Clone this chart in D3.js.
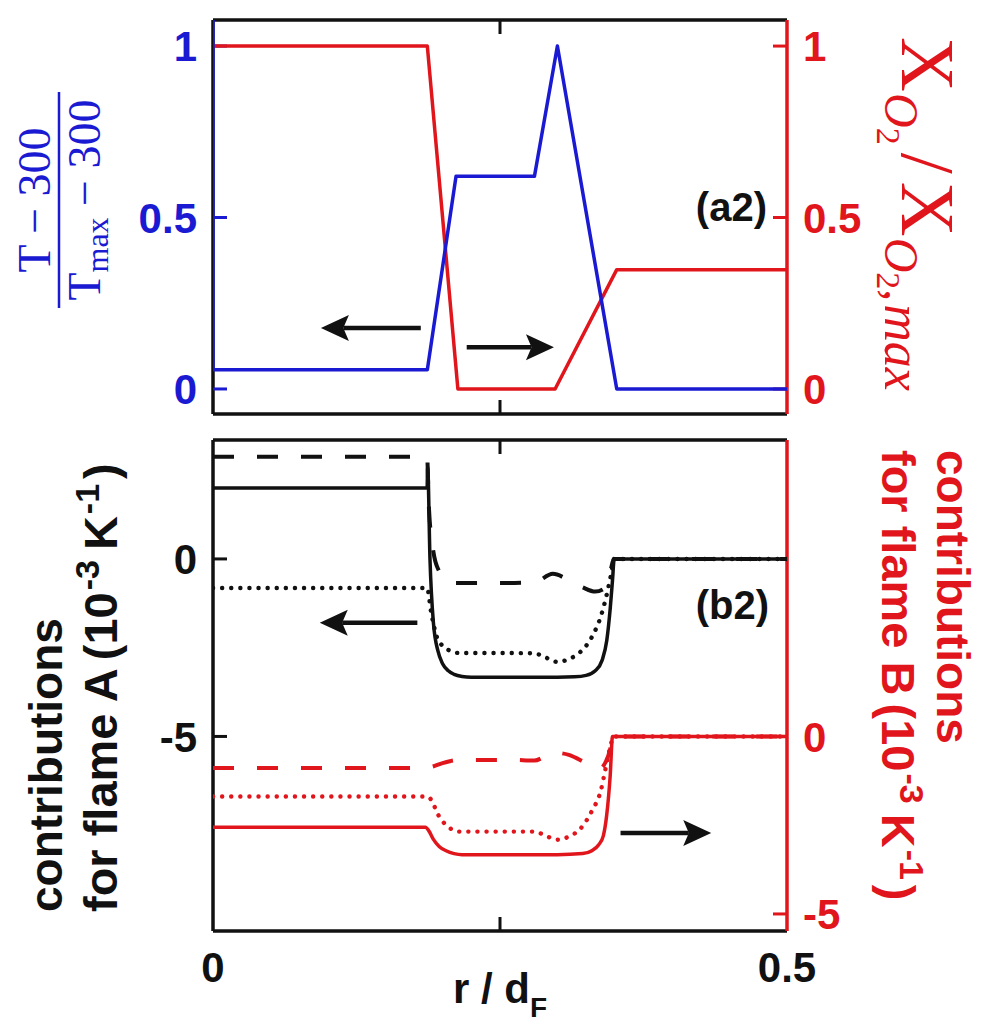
<!DOCTYPE html>
<html><head><meta charset="utf-8">
<script src="https://cdn.jsdelivr.net/npm/d3@7"></script>
<style>html,body{margin:0;padding:0;background:#fff;} svg{display:block;}</style>
</head><body>
<script>
// ---------- DATA ----------
// top panel (a2)
const rT   = [0, 0, 0.1867, 0.2117, 0.28, 0.30, 0.3517, 0.5];
const vT   = [1.08, 0.056, 0.056, 0.62, 0.62, 1.0, 0, 0];
const rO2  = [0, 0.1867, 0.2133, 0.298, 0.3517, 0.5];
const vO2  = [1, 1, 0, 0, 0.348, 0.348];
const topTicks = [0, 0.5, 1];
const topTickLabels = ["0", "0.5", "1"];

// bottom panel (b2) flame A (black, left axis)
const rAsolid = [0, 0.1865, 0.187, 0.189, 0.192, 0.196, 0.2, 0.205, 0.21, 0.217, 0.225, 0.26, 0.30, 0.315, 0.325, 0.333, 0.339, 0.343, 0.346, 0.348, 0.3495, 0.5];
const vAsolid = [2.0, 2.0, 2.6, 0.0, -1.8, -2.6, -2.95, -3.15, -3.25, -3.31, -3.33, -3.33, -3.33, -3.32, -3.28, -3.15, -2.85, -2.3, -1.4, -0.6, 0, 0];
const rAdash  = [0, 0.1865, 0.188, 0.192, 0.197, 0.203, 0.21, 0.25, 0.28, 0.296, 0.31, 0.322, 0.333, 0.34, 0.345, 0.3495, 0.5];
const vAdash  = [2.88, 2.88, 1.5, 0.2, -0.35, -0.6, -0.68, -0.68, -0.66, -0.42, -0.6, -0.8, -0.92, -0.85, -0.5, 0, 0];
const rAdot   = [0, 0.1865, 0.19, 0.195, 0.2, 0.206, 0.215, 0.25, 0.28, 0.29, 0.30, 0.31, 0.32, 0.33, 0.338, 0.343, 0.347, 0.3495, 0.5];
const vAdot   = [-0.82, -0.82, -1.5, -2.2, -2.45, -2.58, -2.65, -2.65, -2.66, -2.78, -2.9, -2.82, -2.62, -2.2, -1.6, -1.0, -0.4, 0, 0];
// flame B (red, right axis)
const rBsolid = [0, 0.185, 0.188, 0.192, 0.197, 0.203, 0.21, 0.217, 0.26, 0.30, 0.322, 0.33, 0.336, 0.34, 0.343, 0.346, 0.348, 0.5];
const vBsolid = [-2.56, -2.56, -2.66, -2.9, -3.1, -3.22, -3.3, -3.33, -3.33, -3.33, -3.3, -3.22, -3.05, -2.8, -2.2, -1.1, 0, 0];
const rBdash  = [0, 0.185, 0.19, 0.2, 0.215, 0.26, 0.28, 0.29, 0.298, 0.31, 0.322, 0.33, 0.337, 0.342, 0.346, 0.348, 0.5];
const vBdash  = [-0.89, -0.89, -0.86, -0.75, -0.66, -0.66, -0.68, -0.55, -0.46, -0.52, -0.7, -0.84, -0.9, -0.72, -0.35, 0, 0];
const rBdot   = [0, 0.186, 0.19, 0.196, 0.205, 0.215, 0.25, 0.28, 0.29, 0.30, 0.31, 0.32, 0.33, 0.338, 0.342, 0.346, 0.349, 0.5];
const vBdot   = [-1.69, -1.69, -1.78, -2.2, -2.55, -2.68, -2.68, -2.68, -2.8, -2.91, -2.82, -2.6, -2.1, -1.5, -0.9, -0.3, 0, 0];
const botTicksA = [-5, 0];
const botTicksB = [-5, 0];
const xTicks = [0, 0.25, 0.5];
const xTickLabels = ["0", "", "0.5"];

// arrows [r1, r2, value] (points from r1 to r2)
const arrowsTop = [[0.181, 0.094, 0.178], [0.221, 0.297, 0.122]];
const arrowBotA = [0.178, 0.093, -1.8];
const arrowBotB = [0.355, 0.434, -2.72];

// ---------- STYLE ----------
const BLUE = "#1a1ad2", RED = "#e0161c", BLACK = "#111";
const W = 987, H = 1031;
const svg = d3.select("body").append("svg").attr("width", W).attr("height", H)
  .style("font-family", "'Liberation Sans', Arial, sans-serif");

const x = d3.scaleLinear().domain([0, 0.5]).range([213, 787]);
const yT = d3.scaleLinear().domain([-0.073, 1.076]).range([414, 20]);
const yA = d3.scaleLinear().domain([-10.48, 3.35]).range([931, 440]);
const yB = d3.scaleLinear().domain([-5.48, 8.35]).range([931, 440]);

const defs = svg.append("defs");
defs.append("clipPath").attr("id", "clipT").append("rect")
  .attr("x", x(0)).attr("y", yT.range()[1]).attr("width", x(0.5) - x(0)).attr("height", yT.range()[0] - yT.range()[1]);
defs.append("clipPath").attr("id", "clipB").append("rect")
  .attr("x", x(0)).attr("y", yA.range()[1]).attr("width", x(0.5) - x(0)).attr("height", yA.range()[0] - yA.range()[1]);

function zip(a, b) { return a.map((d, i) => [d, b[i]]); }
function drawLine(g, rs, vs, ys, color, dash, width, curve) {
  const line = d3.line().x(d => x(d[0])).y(d => ys(d[1])).curve(curve || d3.curveLinear);
  const p = g.append("path").datum(zip(rs, vs)).attr("d", line)
    .attr("fill", "none").attr("stroke", color).attr("stroke-width", width || 3.5)
    .attr("stroke-linejoin", "round");
  if (dash === "dash") p.attr("stroke-dasharray", "21,23");
  if (dash === "dot") p.attr("stroke-dasharray", "0.1,9").attr("stroke-linecap", "round").attr("stroke-width", 4.4);
  return p;
}
function arrow(g, x1, x2, yy, color) {
  const dir = Math.sign(x2 - x1), hl = 28, hw = 13;
  g.append("line").attr("x1", x1).attr("x2", x2 - dir * hl * 0.8).attr("y1", yy).attr("y2", yy)
    .attr("stroke", color).attr("stroke-width", 4.5);
  g.append("path").attr("d", `M${x2},${yy} L${x2 - dir * hl},${yy - hw} L${x2 - dir * hl * 0.8},${yy} L${x2 - dir * hl},${yy + hw} Z`)
    .attr("fill", color);
}

// ---------- TOP PANEL ----------
const gT = svg.append("g");
const tl = 14;
gT.append("line").attr("x1", x(0)).attr("x2", x(0.5)).attr("y1", yT.range()[1]).attr("y2", yT.range()[1]).attr("stroke", BLACK).attr("stroke-width", 3.5);
gT.append("line").attr("x1", x(0)).attr("x2", x(0.5)).attr("y1", yT.range()[0]).attr("y2", yT.range()[0]).attr("stroke", BLACK).attr("stroke-width", 3.5);
gT.append("line").attr("x1", x(0)).attr("x2", x(0)).attr("y1", yT.range()[1]).attr("y2", yT.range()[0]).attr("stroke", BLACK).attr("stroke-width", 3.5);
gT.append("line").attr("x1", x(0.5)).attr("x2", x(0.5)).attr("y1", yT.range()[1]).attr("y2", yT.range()[0]).attr("stroke", RED).attr("stroke-width", 3.5);
topTicks.forEach(t => {
  gT.append("line").attr("x1", x(0)).attr("x2", x(0) + tl).attr("y1", yT(t)).attr("y2", yT(t)).attr("stroke", BLUE).attr("stroke-width", 3);
  gT.append("line").attr("x1", x(0.5)).attr("x2", x(0.5) - tl).attr("y1", yT(t)).attr("y2", yT(t)).attr("stroke", RED).attr("stroke-width", 3);
});
gT.append("line").attr("x1", x(0.25)).attr("x2", x(0.25)).attr("y1", yT.range()[1]).attr("y2", yT.range()[1] + tl).attr("stroke", BLACK).attr("stroke-width", 3);
gT.append("line").attr("x1", x(0.25)).attr("x2", x(0.25)).attr("y1", yT.range()[0]).attr("y2", yT.range()[0] - tl).attr("stroke", BLACK).attr("stroke-width", 3);
const cT = gT.append("g").attr("clip-path", "url(#clipT)");
drawLine(cT, rO2, vO2, yT, RED, null, 3.5);
drawLine(cT, rT, vT, yT, BLUE, null, 3.5);
const tickFont = 42;
topTicks.forEach((t, i) => {
  gT.append("text").attr("x", 197).attr("y", yT(t)).attr("dy", "0.36em").attr("text-anchor", "end")
    .attr("font-size", tickFont).attr("font-weight", "bold").attr("fill", BLUE).text(topTickLabels[i]);
  gT.append("text").attr("x", 803).attr("y", yT(t)).attr("dy", "0.36em").attr("text-anchor", "start")
    .attr("font-size", tickFont).attr("font-weight", "bold").attr("fill", RED).text(topTickLabels[i]);
});
arrowsTop.forEach(a => arrow(gT, x(a[0]), x(a[1]), yT(a[2]), BLACK));
gT.append("text").attr("x", 767).attr("y", 207).attr("dy", "0.36em").attr("text-anchor", "end")
  .attr("font-size", 40).attr("font-weight", "bold").attr("fill", BLACK).text("(a2)");

const serif = "'Liberation Serif', 'Times New Roman', serif";
const fr = svg.append("g").attr("transform", "translate(59,200) rotate(-90)").attr("fill", BLUE).style("font-family", serif);
fr.append("text").attr("x", 0).attr("y", -9).attr("text-anchor", "middle").attr("font-size", 46).text("T \u2212 300");
fr.append("line").attr("x1", -108).attr("x2", 108).attr("y1", 0).attr("y2", 0).attr("stroke", BLUE).attr("stroke-width", 2.5);
const den = fr.append("text").attr("x", 0).attr("y", 41).attr("text-anchor", "middle").attr("font-size", 46);
den.append("tspan").text("T");
den.append("tspan").attr("font-size", 32).attr("dy", 8).text("max");
den.append("tspan").attr("dy", -8).text(" \u2212 300");

const xl = svg.append("g").attr("transform", "translate(902,214) rotate(90)").attr("fill", RED).style("font-family", serif);
const xt = xl.append("text").attr("x", 0).attr("y", 0).attr("text-anchor", "middle").attr("font-size", 76);
xt.append("tspan").text("X");
xt.append("tspan").attr("font-size", 48).attr("font-style", "italic").attr("dy", 17).attr("dx", 1).text("O");
xt.append("tspan").attr("font-size", 34).attr("dy", 8).text("2");
xt.append("tspan").attr("dy", -25).attr("dx", 8).text("/");
xt.append("tspan").attr("dx", 8).text("X");
xt.append("tspan").attr("font-size", 48).attr("font-style", "italic").attr("dy", 17).attr("dx", 1).text("O");
xt.append("tspan").attr("font-size", 34).attr("dy", 8).text("2");
xt.append("tspan").attr("font-size", 48).attr("dy", -8).text(",");
xt.append("tspan").attr("font-size", 52).attr("font-style", "italic").attr("dx", 3).text("max");

// ---------- BOTTOM PANEL ----------
const gB = svg.append("g");
const pTop = yA.range()[1], pBot = yA.range()[0];
gB.append("line").attr("x1", x(0)).attr("x2", x(0.5)).attr("y1", pTop).attr("y2", pTop).attr("stroke", BLACK).attr("stroke-width", 3.5);
gB.append("line").attr("x1", x(0)).attr("x2", x(0.5)).attr("y1", pBot).attr("y2", pBot).attr("stroke", BLACK).attr("stroke-width", 3.5);
gB.append("line").attr("x1", x(0)).attr("x2", x(0)).attr("y1", pTop).attr("y2", pBot).attr("stroke", BLACK).attr("stroke-width", 3.5);
gB.append("line").attr("x1", x(0.5)).attr("x2", x(0.5)).attr("y1", pTop).attr("y2", pBot).attr("stroke", RED).attr("stroke-width", 3.5);
botTicksA.forEach(t => gB.append("line").attr("x1", x(0)).attr("x2", x(0) + tl).attr("y1", yA(t)).attr("y2", yA(t)).attr("stroke", BLACK).attr("stroke-width", 3));
botTicksB.forEach(t => gB.append("line").attr("x1", x(0.5)).attr("x2", x(0.5) - tl).attr("y1", yB(t)).attr("y2", yB(t)).attr("stroke", RED).attr("stroke-width", 3));
gB.append("line").attr("x1", x(0.25)).attr("x2", x(0.25)).attr("y1", pTop).attr("y2", pTop + tl).attr("stroke", BLACK).attr("stroke-width", 3);
gB.append("line").attr("x1", x(0.25)).attr("x2", x(0.25)).attr("y1", pBot).attr("y2", pBot - tl).attr("stroke", BLACK).attr("stroke-width", 3);

const cB = gB.append("g").attr("clip-path", "url(#clipB)");
const sm = d3.curveMonotoneX;
drawLine(cB, rBdot, vBdot, yB, RED, "dot", 4, sm);
drawLine(cB, rBdash, vBdash, yB, RED, "dash", 4, sm);
drawLine(cB, rBsolid, vBsolid, yB, RED, null, 3.5, sm);
drawLine(cB, rAdot, vAdot, yA, BLACK, "dot", 4, sm);
drawLine(cB, rAdash, vAdash, yA, BLACK, "dash", 4, sm);
drawLine(cB, rAsolid, vAsolid, yA, BLACK, null, 3.5, sm);

botTicksA.forEach(t => gB.append("text").attr("x", 197).attr("y", yA(t)).attr("dy", "0.36em").attr("text-anchor", "end")
  .attr("font-size", tickFont).attr("font-weight", "bold").attr("fill", BLACK).text(t < 0 ? "-" + Math.abs(t) : String(t)));
botTicksB.forEach(t => gB.append("text").attr("x", 803).attr("y", yB(t)).attr("dy", "0.36em").attr("text-anchor", "start")
  .attr("font-size", tickFont).attr("font-weight", "bold").attr("fill", RED).text(t < 0 ? "-" + Math.abs(t) : String(t)));
xTicks.forEach((t, i) => {
  if (!xTickLabels[i]) return;
  gB.append("text").attr("x", x(t)).attr("y", 967).attr("dy", "0.36em").attr("text-anchor", "middle")
    .attr("font-size", tickFont).attr("font-weight", "bold").attr("fill", BLACK).text(xTickLabels[i]);
});
arrow(gB, x(arrowBotA[0]), x(arrowBotA[1]), yA(arrowBotA[2]), BLACK);
arrow(gB, x(arrowBotB[0]), x(arrowBotB[1]), yB(arrowBotB[2]), BLACK);
gB.append("text").attr("x", 769).attr("y", 605).attr("dy", "0.36em").attr("text-anchor", "end")
  .attr("font-size", 40).attr("font-weight", "bold").attr("fill", BLACK).text("(b2)");

const xlab = svg.append("text").attr("x", 500).attr("y", 1003).attr("text-anchor", "middle")
  .attr("font-size", 42).attr("font-weight", "bold").attr("fill", BLACK);
xlab.append("tspan").text("r / d");
xlab.append("tspan").attr("font-size", 28).attr("dy", 14).text("F");

const labFont = 46, l2Font = 47, supFont = 34;
function secondLine(sel, name) {
  sel.append("tspan").text("for flame " + name);
  sel.append("tspan").attr("dx", 8).text("(10");
  sel.append("tspan").attr("font-size", supFont).attr("dx", 2).attr("dy", -18).text("-3");
  sel.append("tspan").attr("dx", 10).attr("dy", 18).text("K");
  sel.append("tspan").attr("font-size", supFont).attr("dx", 2).attr("dy", -18).text("-1");
  sel.append("tspan").attr("dx", 5).attr("dy", 18).text(")");
}
svg.append("text").attr("transform", "translate(62,912) rotate(-90)").attr("font-size", labFont).attr("font-weight", "bold")
  .attr("fill", BLACK).text("contributions");
secondLine(svg.append("text").attr("transform", "translate(117,912) rotate(-90)").attr("font-size", l2Font).attr("font-weight", "bold").attr("fill", BLACK), "A");

svg.append("text").attr("transform", "translate(937,450) rotate(90)").attr("font-size", labFont).attr("font-weight", "bold")
  .attr("fill", RED).text("contributions");
secondLine(svg.append("text").attr("transform", "translate(882,450) rotate(90)").attr("font-size", l2Font).attr("font-weight", "bold").attr("fill", RED), "B");
</script>
</body></html>
